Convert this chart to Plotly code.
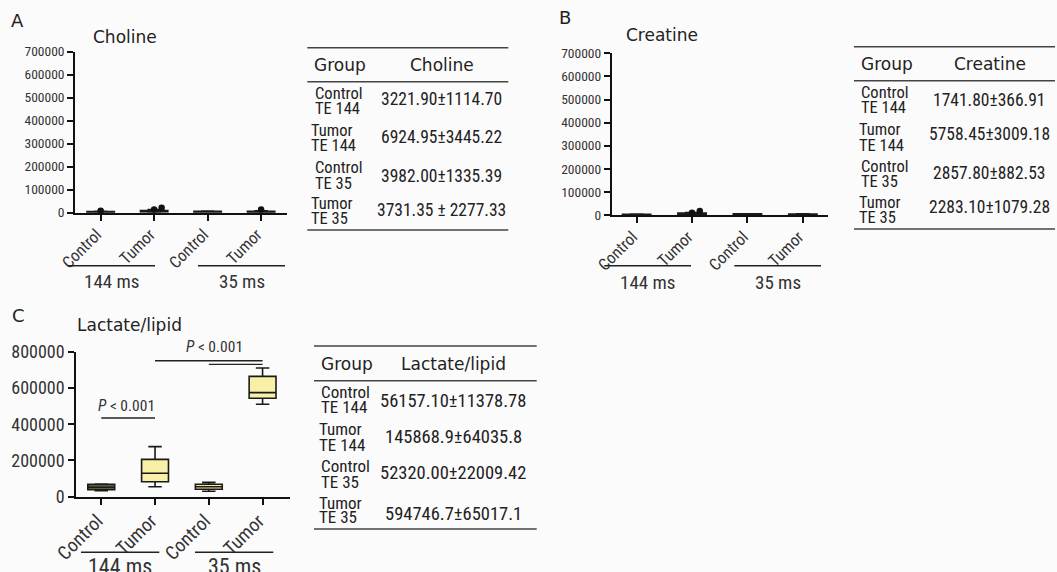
import plotly.graph_objects as go

W, H = 1057, 572
BG = "#fcfbfc"
NARROW = "Liberation Sans Narrow, Roboto Condensed, DejaVu Sans Condensed, Arial Narrow, sans-serif"
WIDE = "DejaVu Sans, Verdana, sans-serif"
INK = "#222222"

# ---------------- data ----------------
groups = ["Control", "Tumor", "Control", "Tumor"]
te_labels = ["144 ms", "35 ms"]

# Choline box statistics
cho_low = [1800, 2500, 2200, 1500]
cho_q1 = [2400, 4500, 3000, 2200]
cho_med = [3100, 6000, 3900, 3200]
cho_q3 = [4000, 8500, 5000, 4500]
cho_high = [4900, 12000, 6000, 6500]
cho_out = [[8000], [14000, 22000], [], [14000]]

# Creatine box statistics (panel B)
cre_low = [1200, 2500, 1700, 900]
cre_q1 = [1500, 3500, 2200, 1500]
cre_med = [1700, 5000, 2800, 2200]
cre_q3 = [2000, 7000, 3500, 3000]
cre_high = [2300, 9000, 4000, 3800]
cre_out = [[], [10000, 17000], [], []]

# Lactate/lipid box statistics (panel C)
lac_low = [33000, 55000, 30000, 510000]
lac_q1 = [38600, 82800, 40800, 543000]
lac_med = [52000, 129000, 55000, 574000]
lac_q3 = [68400, 206000, 68400, 664000]
lac_high = [70000, 276000, 79000, 710000]

# significance brackets in panel C: (from, to, level)
sig_pairs = [(0, 1, 434000), (1, 3, 750000), (2, 3, 730000)]
sig_labels = [("P < 0.001", 0.47, 500000), ("P < 0.001", 2.1, 825000)]

# table contents
tab_groups = [("Control", "TE 144"), ("Tumor", "TE 144"), ("Control", "TE 35"), ("Tumor", "TE 35")]
cho_table = ["3221.90±1114.70", "6924.95±3445.22", "3982.00±1335.39", "3731.35 ± 2277.33"]
cre_table = ["1741.80±366.91", "5758.45±3009.18", "2857.80±882.53", "2283.10±1079.28"]
lac_table = ["56157.10±11378.78", "145868.9±64035.8", "52320.00±22009.42", "594746.7±65017.1"]

# ---------------- helpers ----------------
def fx(x):
    return x / W

def fy(y):
    return 1 - y / H

fig = go.Figure()

panels = [
    dict(name="A", xa="x", ya="y", xd=(75, 287.3), yd=(212.7, 51.7), xr=[-0.48, 3.49], yr=[0, 700000],
         dt=100000, low=cho_low, q1=cho_q1, med=cho_med, q3=cho_q3, high=cho_high, out=cho_out,
         fills=["#222222"] * 4, lw=2.2, ytf=13.5, xtf=16.5),
    dict(name="B", xa="x2", ya="y2", xd=(611.7, 828.3), yd=(215, 53.3), xr=[-0.45, 3.46], yr=[0, 700000],
         dt=100000, low=cre_low, q1=cre_q1, med=cre_med, q3=cre_q3, high=cre_high, out=cre_out,
         fills=["#222222"] * 4, lw=2.2, ytf=13.5, xtf=16.5),
    dict(name="C", xa="x3", ya="y3", xd=(76, 290), yd=(496.7, 351.7), xr=[-0.47, 3.51], yr=[0, 800000],
         dt=200000, low=lac_low, q1=lac_q1, med=lac_med, q3=lac_q3, high=lac_high, out=[[], [], [], []],
         fills=["#5f5c3c", "#f7f0a6", "#f2e99a", "#f7f0a6"], lw=1.6, ytf=18, xtf=19),
]

for i, p in enumerate(panels):
    sfx = "" if i == 0 else str(i + 1)
    for k in range(4):
        fig.add_trace(go.Box(
            x=[k], q1=[p["q1"][k]], median=[p["med"][k]], q3=[p["q3"][k]],
            lowerfence=[p["low"][k]], upperfence=[p["high"][k]],
            width=0.5, whiskerwidth=0.5, fillcolor=p["fills"][k],
            line=dict(color="#1a1a1a", width=p["lw"]),
            boxpoints=False, showlegend=False, hoverinfo="skip",
            xaxis=p["xa"], yaxis=p["ya"]))
        outs = p["out"][k]
        if outs:
            xs = [k + 0.14 * j for j in range(len(outs))]
            fig.add_trace(go.Scatter(x=xs, y=outs, mode="markers",
                                     marker=dict(color="#111111", size=6.5),
                                     showlegend=False, hoverinfo="skip",
                                     xaxis=p["xa"], yaxis=p["ya"], cliponaxis=False))
    fig.update_layout(**{
        "xaxis" + sfx: dict(domain=[fx(p["xd"][0]), fx(p["xd"][1])], range=p["xr"],
                            anchor="y" + sfx, tickvals=[0, 1, 2, 3], ticktext=groups,
                            tickangle=-45, ticks="outside", ticklen=6, tickwidth=1.6,
                            ticklabelstandoff=-2, ticklabelshift=-4,
                            tickcolor="#111", showline=True, linecolor="#111", linewidth=1.6,
                            showgrid=False, zeroline=False, automargin=False,
                            tickfont=dict(family=NARROW, size=p["xtf"], color="#333")),
        "yaxis" + sfx: dict(domain=[fy(p["yd"][0]), fy(p["yd"][1])], range=p["yr"],
                            anchor="x" + sfx, dtick=p["dt"], tick0=0, tickformat="d",
                            ticks="outside", ticklen=6, tickwidth=1.6, tickcolor="#111",
                            showline=True, linecolor="#111", linewidth=1.6,
                            showgrid=False, zeroline=False, automargin=False,
                            tickfont=dict(family=NARROW, size=p["ytf"], color="#333")),
    })

# panel letters and titles
titles = [("A", 17, 20.7, "Choline", 125, 36.7), ("B", 565, 18, "Creatine", 661.7, 35),
          ("C", 18.3, 315, "Lactate/lipid", 129.3, 325)]
for letter, lx, ly, t, tx, ty in titles:
    fig.add_annotation(x=fx(lx), y=fy(ly), xref="paper", yref="paper", text=letter,
                       showarrow=False, xanchor="center", yanchor="middle",
                       font=dict(family=WIDE, size=18, color=INK))
    fig.add_annotation(x=fx(tx), y=fy(ty), xref="paper", yref="paper", text=t,
                       showarrow=False, xanchor="center", yanchor="middle",
                       font=dict(family=WIDE, size=17, color=INK))

# group underlines and TE labels
group_geo = [
    dict(lines=[(68, 155), (198, 285)], ly=265.7, ty=281.7, size=19),
    dict(lines=[(604.3, 691), (734.3, 821)], ly=265.7, ty=282.7, size=19),
    dict(lines=[(81, 159.3), (195, 273.3)], ly=552.3, ty=566, size=22),
]
for g in group_geo:
    for j, (x0, x1) in enumerate(g["lines"]):
        fig.add_shape(type="line", xref="paper", yref="paper", x0=fx(x0), x1=fx(x1),
                      y0=fy(g["ly"]), y1=fy(g["ly"]), line=dict(color="#222", width=1.4))
        fig.add_annotation(x=fx((x0 + x1) / 2), y=fy(g["ty"]), xref="paper", yref="paper",
                           text=te_labels[j], showarrow=False, xanchor="center", yanchor="middle",
                           font=dict(family=NARROW, size=g["size"], color="#333"))

# significance brackets in C
c_y0, c_y1 = 496.7, 351.7
def c_val_to_py(v):
    return c_y0 - (c_y0 - c_y1) * v / 800000

for a, b, lvl in sig_pairs:
    fig.add_shape(type="line", xref="x3", yref="y3", x0=a, x1=b, y0=lvl, y1=lvl,
                  line=dict(color="#222", width=1.4))
for txt, xc, yv in sig_labels:
    fig.add_annotation(x=xc, y=fy(c_val_to_py(yv)), xref="x3", yref="paper",
                       text="<i>P</i> &lt; 0.001", showarrow=False, xanchor="center", yanchor="middle",
                       font=dict(family=NARROW, size=15.5, color="#333"))

# tables
tables = [
    dict(x0=307.3, x1=508.3, top=47.7, hl=81.7, bot=230, hy=65, gx=340, vx=441.5, head="Choline",
         vals=cho_table, rows=[(93.3, 108.3, 99.3), (130, 146, 137.3), (167.3, 183.3, 175.7), (203.3, 218.3, 210)],
         glx=[312.7, 309.3, 312.7, 309.3], vsize=17.5, gsize=16.5),
    dict(x0=854, x1=1055, top=46.7, hl=80.7, bot=229, hy=64.3, gx=886.7, vx=989.5, head="Creatine",
         vals=cre_table, rows=[(92.7, 107.3, 100), (129.3, 145, 134.3), (166.7, 181.7, 172.7), (202.7, 217.3, 207.3)],
         glx=[859.3, 856.7, 859.3, 856.7], vsize=17.5, gsize=16.5),
    dict(x0=314, x1=536.7, top=346, hl=380.7, bot=529, hy=364.3, gx=347.3, vx=453, head="Lactate/lipid",
         vals=lac_table, rows=[(392.3, 407.3, 401), (429.3, 445, 437.3), (466, 481.7, 473.3), (502.7, 517.3, 514.3)],
         glx=[319.3, 316.7, 319.3, 316.7], vsize=18.5, gsize=17),
]
for t in tables:
    for yy in (t["top"], t["hl"], t["bot"]):
        fig.add_shape(type="line", xref="paper", yref="paper", x0=fx(t["x0"]), x1=fx(t["x1"]),
                      y0=fy(yy), y1=fy(yy), line=dict(color="#444", width=1.5))
    fig.add_annotation(x=fx(t["gx"]), y=fy(t["hy"]), xref="paper", yref="paper", text="Group",
                       showarrow=False, xanchor="center", yanchor="middle",
                       font=dict(family=WIDE, size=17, color=INK))
    fig.add_annotation(x=fx(t["vx"]), y=fy(t["hy"]), xref="paper", yref="paper", text=t["head"],
                       showarrow=False, xanchor="center", yanchor="middle",
                       font=dict(family=WIDE, size=17, color=INK))
    for r, (l1, l2, vy) in enumerate(t["rows"]):
        g1, g2 = tab_groups[r]
        for txt, yy in ((g1, l1), (g2, l2)):
            fig.add_annotation(x=fx(t["glx"][r]), y=fy(yy), xref="paper", yref="paper", text=txt,
                               showarrow=False, xanchor="left", yanchor="middle",
                               font=dict(family=NARROW, size=t["gsize"], color=INK))
        fig.add_annotation(x=fx(t["vx"]), y=fy(vy), xref="paper", yref="paper", text=t["vals"][r],
                           showarrow=False, xanchor="center", yanchor="middle",
                           font=dict(family=NARROW, size=t["vsize"], color=INK))

fig.update_layout(width=W, height=H, margin=dict(l=0, r=0, t=0, b=0, autoexpand=False),
                  paper_bgcolor=BG, plot_bgcolor=BG, showlegend=False)

fig.write_html("out.html", config={"displayModeBar": False},
               post_script="document.body.style.margin='0px';")
